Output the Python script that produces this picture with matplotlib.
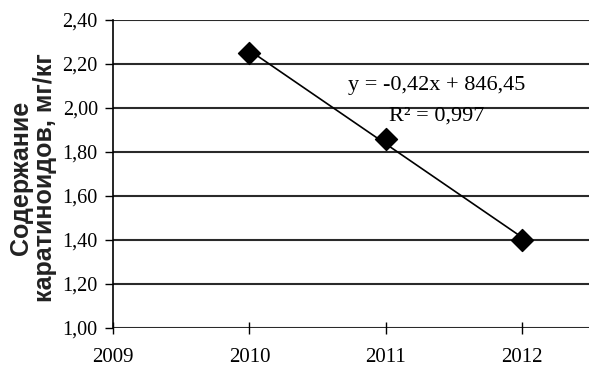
import numpy as np
import matplotlib.pyplot as plt
from matplotlib.ticker import FuncFormatter

# данные
years = [2010, 2011, 2012]
carotenoids = [2.25, 1.86, 1.40]
y_ticks = [1.00, 1.20, 1.40, 1.60, 1.80, 2.00, 2.20, 2.40]
x_ticks = [2009, 2010, 2011, 2012]
eq_line = "y = -0,42x + 846,45"
r2_line = "R² = 0,997"

fig = plt.figure(figsize=(5.89, 3.70), dpi=100)
ax = fig.add_axes([0.192, 0.1135, 0.808, 0.8325])

# сетка
for v in y_ticks:
    ax.axhline(v, color='#2a2a2a', lw=1.5, zorder=1)

# линия тренда
coef = np.polyfit(years, carotenoids, 1)
xs = np.array([years[0], years[-1]])
ax.plot(xs, np.polyval(coef, xs), color='black', lw=1.2, zorder=2)

ax.scatter(years, carotenoids, marker='D', s=125, color='black', zorder=3)

ax.text(2011.37, 2.10, eq_line, ha='center', va='center', fontsize=16,
        family='Liberation Serif')
ax.text(2011.37, 1.964, r2_line, ha='center', va='center', fontsize=16,
        family='Liberation Serif')

ax.set_xlim(2009, 2012.49)
ax.set_ylim(1.0, 2.40)
ax.set_xticks(x_ticks)
ax.set_yticks(y_ticks)
ax.yaxis.set_major_formatter(FuncFormatter(lambda v, p: f"{v:.2f}".replace('.', ',')))

for s in ['top', 'right', 'bottom']:
    ax.spines[s].set_visible(False)
ax.spines['left'].set_linewidth(1.2)

ax.tick_params(axis='y', direction='out', length=6, width=1, labelsize=14.5, pad=5)
ax.tick_params(axis='x', direction='inout', length=9, width=1, labelsize=15, pad=10)
for lab in ax.get_xticklabels() + ax.get_yticklabels():
    lab.set_family('Liberation Serif')

fig.text(33 / 589, 1 - 178 / 370, "Содержание\nкаратиноидов, мг/кг", rotation=90,
         ha='center', va='center', fontsize=18, fontweight='bold',
         family='Liberation Sans', linespacing=1.0, color='#222222')

fig.savefig('out.png', dpi=100)
